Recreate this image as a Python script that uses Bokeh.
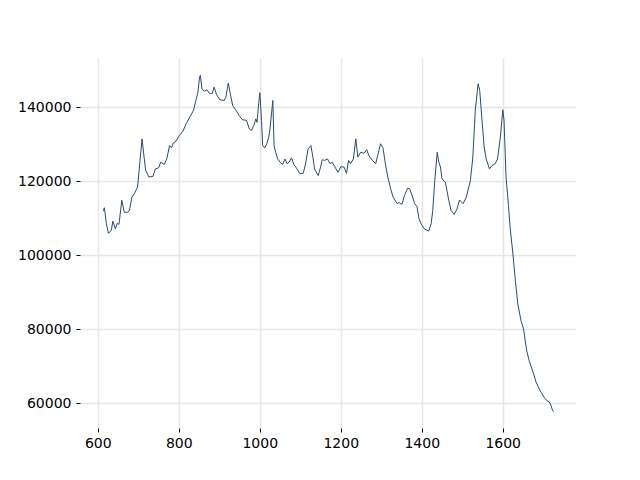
from bokeh.plotting import figure
from bokeh.models import Range1d, FixedTicker, BasicTickFormatter
from bokeh.embed import file_html
from bokeh.resources import INLINE

wavenumber = [
    612, 615, 620, 625, 632, 636, 642, 647, 651, 658,
    664, 673, 677, 683, 689, 697, 703, 708, 713, 717,
    725, 735, 741, 749, 754, 763, 769, 776, 781, 785,
    792, 800, 809, 817, 825, 835, 841, 846, 850, 852,
    856, 862, 868, 874, 881, 886, 892, 900, 911, 915,
    921, 926, 932, 940, 948, 956, 966, 973, 978, 984,
    989, 992, 996, 999, 1003, 1006, 1011, 1016, 1021, 1024,
    1031, 1034, 1038, 1043, 1049, 1055, 1061, 1066, 1071, 1077,
    1083, 1092, 1098, 1106, 1112, 1118, 1125, 1130, 1134, 1143,
    1149, 1153, 1159, 1166, 1172, 1178, 1184, 1192, 1199, 1207,
    1213, 1218, 1223, 1230, 1236, 1241, 1248, 1256, 1263, 1268,
    1277, 1285, 1290, 1297, 1303, 1309, 1315, 1322, 1328, 1338,
    1343, 1350, 1356, 1364, 1369, 1375, 1381, 1387, 1392, 1397,
    1405, 1416, 1422, 1426, 1431, 1437, 1441, 1445, 1449, 1457,
    1464, 1471, 1479, 1486, 1492, 1501, 1509, 1519, 1525, 1531,
    1538, 1542, 1547, 1553, 1558, 1566, 1572, 1580, 1586, 1593,
    1599, 1602, 1607, 1613, 1617, 1624, 1630, 1636, 1644, 1650,
    1658, 1664, 1675, 1681, 1691, 1703, 1716, 1722, 1725,
]

intensity = [
    112000, 112900, 108600, 106000, 106750, 109300, 107200, 108700, 108400, 114900,
    111700, 111700, 112200, 115800, 116700, 118500, 125700, 131500, 126600, 123000,
    121200, 121400, 123400, 123700, 125200, 124600, 126100, 129700, 129100, 130400,
    130900, 132400, 133600, 135600, 137200, 139200, 141900, 144100, 148200, 148700,
    145000, 144400, 144800, 143900, 143700, 145500, 143500, 142100, 141900, 142800,
    146600, 143700, 140500, 139200, 137800, 136700, 136500, 134200, 133800, 135100,
    136900, 136000, 141000, 144000, 136500, 129700, 129100, 130200, 132000, 134200,
    141900, 129700, 127900, 126100, 125200, 124600, 126100, 124800, 125200, 126400,
    124600, 123200, 122100, 122200, 124800, 128800, 129700, 126600, 123400, 121600,
    123900, 125900, 125700, 126100, 124800, 125200, 124000, 122500, 124000, 123900,
    122200, 125700, 124800, 126100, 131500, 126600, 127900, 127600, 128600, 127000,
    125700, 124800, 127000, 130200, 129100, 124800, 121200, 118000, 115800, 114000,
    114300, 113800, 116200, 118200, 118000, 116200, 114100, 113200, 110000, 108600,
    107200, 106600, 108600, 112200, 120300, 127900, 125200, 123900, 120700, 119800,
    115800, 112200, 111100, 112600, 115000, 114000, 115800, 120300, 126600, 139200,
    146400, 144600, 137400, 129300, 126100, 123400, 124300, 124800, 126100, 132000,
    139400, 136500, 121200, 113500, 107600, 100400, 93200, 86900, 82400, 80200,
    74300, 71600, 68000, 65800, 63500, 61300, 60100, 58100, 57800,
]

x_ticks = [600, 800, 1000, 1200, 1400, 1600]
y_ticks = [60000, 80000, 100000, 120000, 140000]

p = figure(width=632, height=472, output_backend="svg", toolbar_location=None,
           x_range=Range1d(556, 1781), y_range=Range1d(53240, 153240),
           min_border_left=80, min_border_right=56, min_border_top=58, min_border_bottom=44)

p.line(wavenumber, intensity, line_color="#2a4b6e", line_width=1)

p.outline_line_color = None
p.background_fill_color = "white"
p.border_fill_color = "white"

for ax in (p.xaxis, p.yaxis):
    ax.axis_line_color = None
    ax.major_tick_line_color = "black"
    ax.major_tick_out = 4
    ax.major_tick_in = 0
    ax.minor_tick_line_color = None
    ax.major_label_text_font = "DejaVu Sans"
    ax.major_label_text_font_size = "14px"
    ax.major_label_text_color = "black"
    ax.major_label_standoff = 5

p.xaxis.ticker = FixedTicker(ticks=x_ticks)
p.yaxis.ticker = FixedTicker(ticks=y_ticks)
p.yaxis.formatter = BasicTickFormatter(use_scientific=False)
p.xaxis.formatter = BasicTickFormatter(use_scientific=False)

p.xgrid.grid_line_color = "#e6e6e6"
p.ygrid.grid_line_color = "#e6e6e6"
p.xgrid.grid_line_width = 1.5
p.ygrid.grid_line_width = 1.5

open("out.html", "w").write(file_html(p, INLINE))
